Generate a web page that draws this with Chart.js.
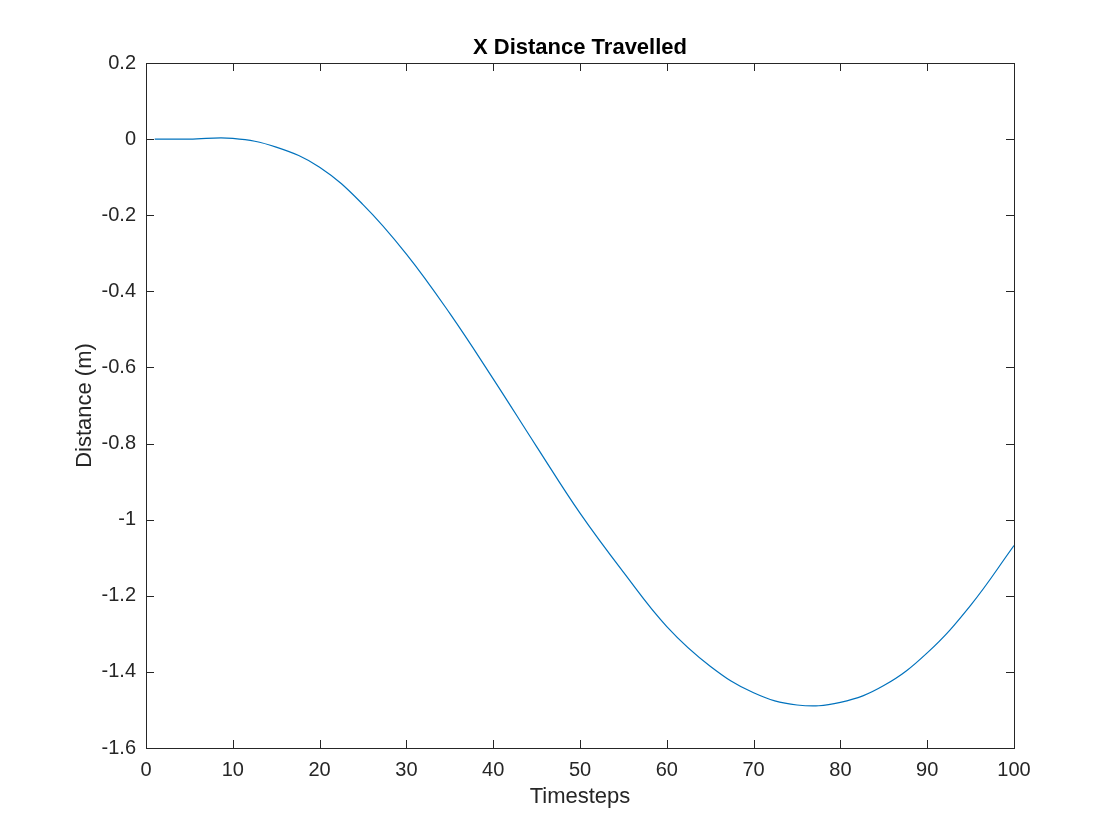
<!DOCTYPE html>
<html>
<head>
<meta charset="utf-8">
<title>X Distance Travelled</title>
<script src="https://cdn.jsdelivr.net/npm/chart.js@4"></script>
<style>
    html, body { margin: 0; padding: 0; background: #fff; }
    #wrap { width: 1120px; height: 840px; }
</style>
</head>
<body>
<div id="wrap"><canvas id="distanceChart"></canvas></div>
<script>
// values
const timesteps = [1, 5, 10, 15, 20, 25, 30, 35, 40, 45, 50,
    55, 60, 65, 70, 75, 80, 85, 90, 95, 100];
const distance = [0.000, 0.000, 0.002, -0.021, -0.074, -0.172, -0.302, -0.458, -0.630, -0.808, -0.983,
    -1.138, -1.281, -1.385, -1.455, -1.487, -1.480, -1.436, -1.350, -1.225, -1.068];

const xTickValues = [0, 10, 20, 30, 40, 50, 60, 70, 80, 90, 100];
const xTickLabels = ['0', '10', '20', '30', '40', '50', '60', '70', '80', '90', '100'];
const yTickValues = [-1.6, -1.4, -1.2, -1, -0.8, -0.6, -0.4, -0.2, 0, 0.2];
const yTickLabels = ['-1.6', '-1.4', '-1.2', '-1', '-0.8', '-0.6', '-0.4', '-0.2', '0', '0.2'];
const chartTitle = 'X Distance Travelled';

const axisColor = '#262626';
const fontFamily = '"Liberation Sans", Arial, Helvetica, sans-serif';

// matlab style box with ticks pointing inwards on all four sides,
// title centred over the plot area (not the whole canvas)
const boxTicks = {
    id: 'boxTicks',
    afterDraw(chart) {
        const { ctx, chartArea: a, scales } = chart;
        const len = 8;
        ctx.save();
        ctx.strokeStyle = axisColor;
        ctx.lineWidth = 1;
        ctx.beginPath();
        scales.x.ticks.forEach((t, i) => {
            const px = Math.round(scales.x.getPixelForTick(i)) + 0.5;
            ctx.moveTo(px, a.bottom); ctx.lineTo(px, a.bottom - len);
            ctx.moveTo(px, a.top); ctx.lineTo(px, a.top + len);
        });
        scales.y.ticks.forEach((t, i) => {
            const py = Math.round(scales.y.getPixelForTick(i)) + 0.5;
            ctx.moveTo(a.left, py); ctx.lineTo(a.left + len, py);
            ctx.moveTo(a.right, py); ctx.lineTo(a.right - len, py);
        });
        ctx.stroke();
        ctx.strokeRect(Math.round(a.left) + 0.5, Math.round(a.top) + 0.5,
            Math.round(a.right - a.left), Math.round(a.bottom - a.top));

        ctx.fillStyle = '#000';
        ctx.font = 'bold 22px ' + fontFamily;
        ctx.textAlign = 'center';
        ctx.textBaseline = 'middle';
        ctx.fillText(chartTitle, (a.left + a.right) / 2, a.top - 15.5);
        ctx.restore();
    }
};

new Chart(document.getElementById('distanceChart'), {
    type: 'line',
    data: {
        datasets: [{
            data: timesteps.map((t, i) => ({ x: t, y: distance[i] })),
            borderColor: '#0072BD',
            borderWidth: 1.2,
            pointRadius: 0,
            fill: false,
            tension: 0.4
        }]
    },
    options: {
        responsive: true,
        maintainAspectRatio: false,
        animation: false,
        devicePixelRatio: 1,
        layout: { padding: { left: 0, right: 106, top: 63, bottom: 0 } },
        plugins: {
            legend: { display: false },
            tooltip: { enabled: false },
            title: { display: false }
        },
        scales: {
            x: {
                type: 'linear',
                min: 0,
                max: 100,
                afterBuildTicks: (s) => { s.ticks = xTickValues.map(v => ({ value: v })); },
                afterFit: (s) => { s.height = 92; },
                grid: { display: false, drawTicks: false },
                border: { display: false },
                ticks: {
                    color: axisColor,
                    padding: 10,
                    maxRotation: 0,
                    font: { family: fontFamily, size: 20 },
                    callback: (v, i) => xTickLabels[i]
                },
                title: {
                    display: true,
                    text: 'Timesteps',
                    color: axisColor,
                    font: { family: fontFamily, size: 22, lineHeight: 1.2 },
                    padding: { top: 0, bottom: 30 }
                }
            },
            y: {
                min: -1.6,
                max: 0.2,
                afterBuildTicks: (s) => { s.ticks = yTickValues.map(v => ({ value: v })); },
                afterFit: (s) => { s.width = 146; },
                grid: { display: false, drawTicks: false },
                border: { display: false },
                ticks: {
                    color: axisColor,
                    padding: 10,
                    font: { family: fontFamily, size: 20 },
                    callback: (v, i) => yTickLabels[i]
                },
                title: {
                    display: true,
                    text: 'Distance (m)',
                    color: axisColor,
                    font: { family: fontFamily, size: 22, lineHeight: 1.2 },
                    padding: { top: 72, bottom: 0 }
                }
            }
        }
    },
    plugins: [boxTicks]
});
</script>
</body>
</html>
